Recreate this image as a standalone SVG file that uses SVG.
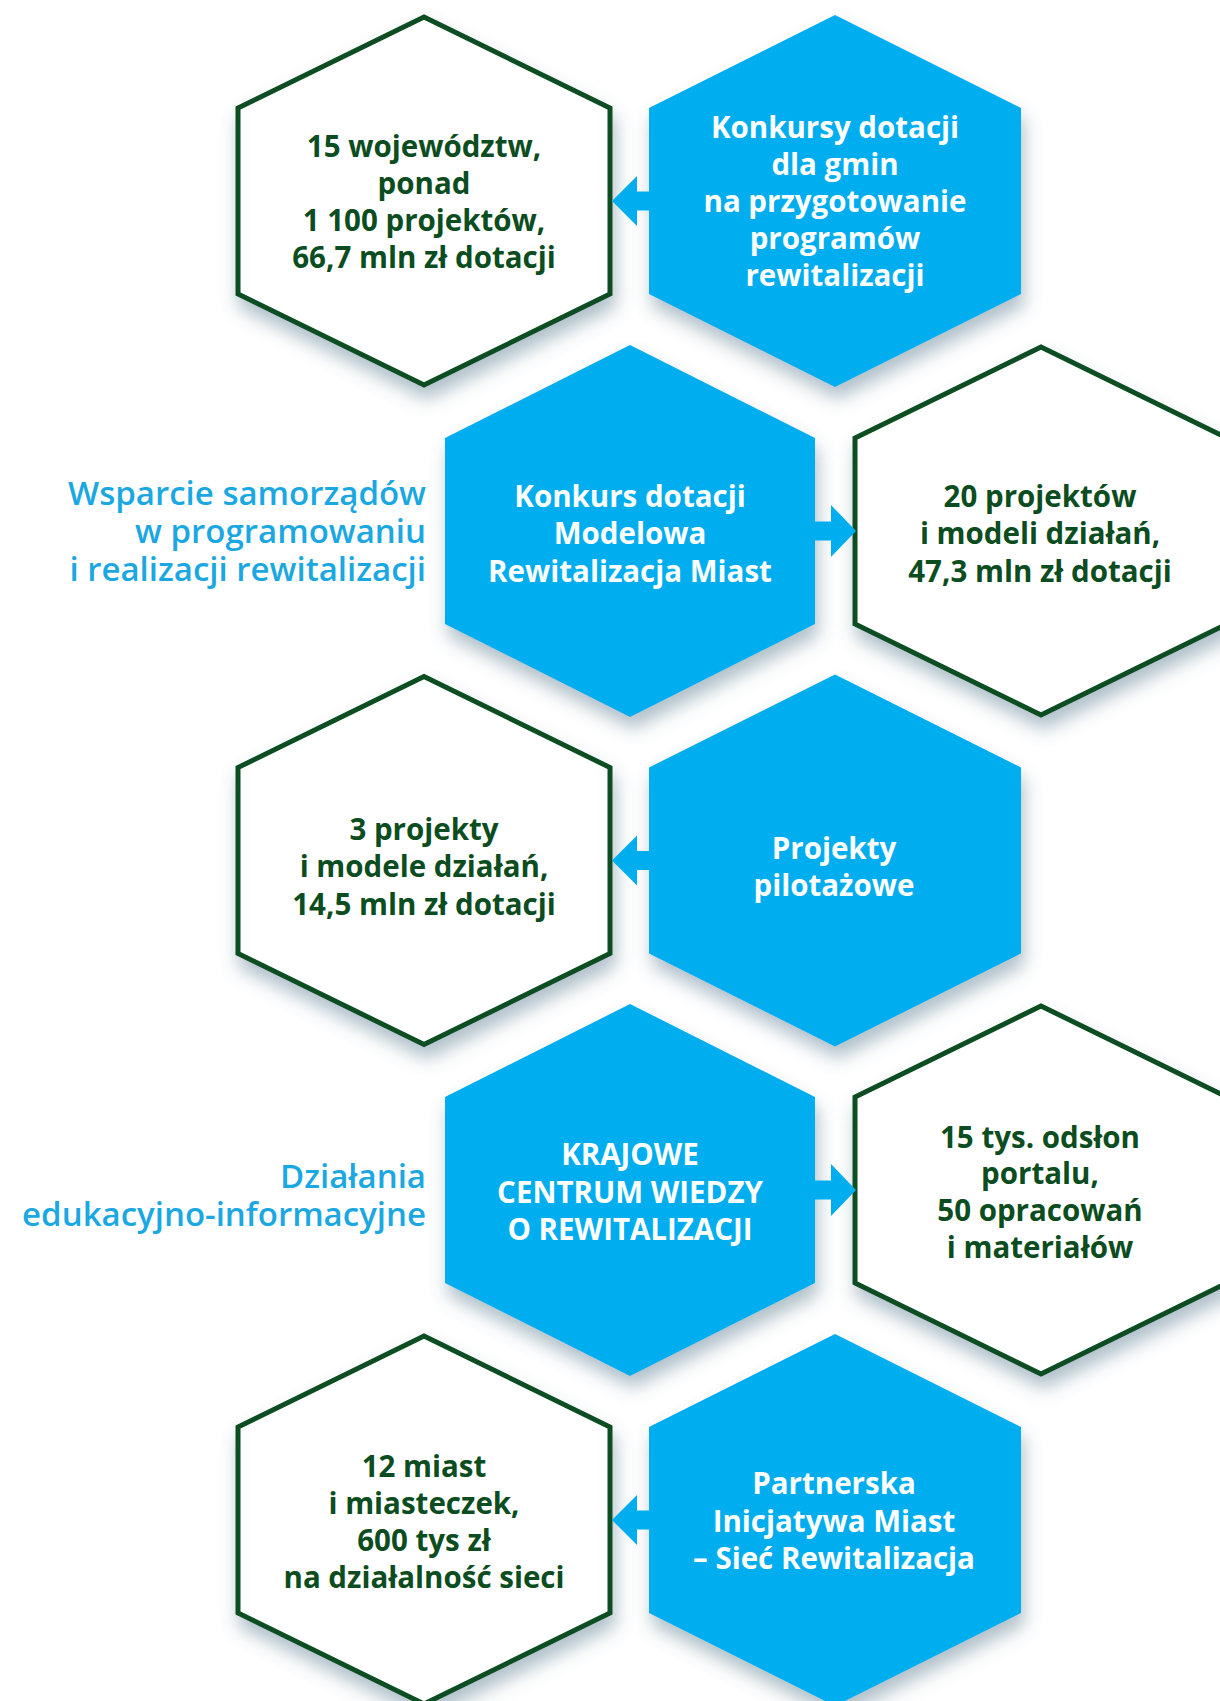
<svg xmlns="http://www.w3.org/2000/svg" width="1220" height="1701" viewBox="0 0 1220 1701">
  <defs>
    <filter id="shadow" x="-20%" y="-20%" width="140%" height="150%">
      <feDropShadow dx="3" dy="12" stdDeviation="9" flood-color="#4f7388" flood-opacity="0.45"/>
    </filter>
    <style>
      .hex-white { fill: #ffffff; stroke: #0b4d20; stroke-width: 5; stroke-linejoin: miter; filter: url(#shadow); }
      .hex-blue { fill: #00aeef; filter: url(#shadow); }
      .arrow { fill: #00aeef; }
      .t-green { font-family: "Open Sans", "Noto Sans", sans-serif; font-weight: 700; font-size: 29.5px; fill: #0b4d20; text-anchor: middle; }
      .t-white { font-family: "Open Sans", "Noto Sans", sans-serif; font-weight: 700; font-size: 29.5px; fill: #ffffff; text-anchor: middle; }
      .label { font-family: "Open Sans", "Noto Sans", sans-serif; font-weight: 600; font-size: 33px; fill: #1ba8e2; text-anchor: end; }
    </style>
  </defs>

  <rect width="1220" height="1701" fill="#ffffff"/>

  <!-- Row 1 -->
  <g id="node-wojewodztwa">
    <polygon class="hex-white" points="424,17 610,108 610,294 424,385 238,294 238,108"/>
    <text class="t-green" x="424" y="157">15 województw,</text>
    <text class="t-green" x="424" y="194">ponad</text>
    <text class="t-green" x="424" y="231">1 100 projektów,</text>
    <text class="t-green" x="424" y="268">66,7 mln zł dotacji</text>
  </g>
  <g id="node-konkursy-gmin">
    <polygon class="hex-blue" points="835,15 1021,108 1021,294 835,387 649,294 649,108"/>
    <text class="t-white" x="835" y="138">Konkursy dotacji</text>
    <text class="t-white" x="835" y="175">dla gmin</text>
    <text class="t-white" x="835" y="212">na przygotowanie</text>
    <text class="t-white" x="835" y="249">programów</text>
    <text class="t-white" x="835" y="286">rewitalizacji</text>
  </g>

  <!-- Row 2 -->
  <g id="label-wsparcie">
    <text class="label" x="426" y="505">Wsparcie samorządów</text>
    <text class="label" x="426" y="543">w programowaniu</text>
    <text class="label" x="426" y="581">i realizacji rewitalizacji</text>
  </g>
  <g id="node-modelowa">
    <polygon class="hex-blue" points="630,345 815,438 815,624 630,717 445,624 445,438"/>
    <text class="t-white" x="630" y="507">Konkurs dotacji</text>
    <text class="t-white" x="630" y="544">Modelowa</text>
    <text class="t-white" x="630" y="582">Rewitalizacja Miast</text>
  </g>
  <g id="node-20-projektow">
    <polygon class="hex-white" points="1041,347 1227,438 1227,624 1041,715 855,624 855,438"/>
    <text class="t-green" x="1040" y="507">20 projektów</text>
    <text class="t-green" x="1040" y="544">i modeli działań,</text>
    <text class="t-green" x="1040" y="582">47,3 mln zł dotacji</text>
  </g>

  <!-- Row 3 -->
  <g id="node-3-projekty">
    <polygon class="hex-white" points="424,676.5 610,767.5 610,953.5 424,1044.5 238,953.5 238,767.5"/>
    <text class="t-green" x="424" y="840">3 projekty</text>
    <text class="t-green" x="424" y="877">i modele działań,</text>
    <text class="t-green" x="424" y="915">14,5 mln zł dotacji</text>
  </g>
  <g id="node-pilotazowe">
    <polygon class="hex-blue" points="835,674.5 1021,767.5 1021,953.5 835,1046.5 649,953.5 649,767.5"/>
    <text class="t-white" x="834" y="859">Projekty</text>
    <text class="t-white" x="834" y="896">pilotażowe</text>
  </g>

  <!-- Row 4 -->
  <g id="label-dzialania">
    <text class="label" x="426" y="1188">Działania</text>
    <text class="label" x="426" y="1226">edukacyjno-informacyjne</text>
  </g>
  <g id="node-kcwr">
    <polygon class="hex-blue" points="630,1004 815,1097 815,1283 630,1376 445,1283 445,1097"/>
    <text class="t-white" x="630" y="1165">KRAJOWE</text>
    <text class="t-white" x="630" y="1203">CENTRUM WIEDZY</text>
    <text class="t-white" x="630" y="1240">O REWITALIZACJI</text>
  </g>
  <g id="node-portal">
    <polygon class="hex-white" points="1041,1006 1227,1097 1227,1283 1041,1374 855,1283 855,1097"/>
    <text class="t-green" x="1040" y="1148">15 tys. odsłon</text>
    <text class="t-green" x="1040" y="1184">portalu,</text>
    <text class="t-green" x="1040" y="1221">50 opracowań</text>
    <text class="t-green" x="1040" y="1258">i materiałów</text>
  </g>

  <!-- Row 5 -->
  <g id="node-12-miast">
    <polygon class="hex-white" points="424,1336 610,1427 610,1613 424,1704 238,1613 238,1427"/>
    <text class="t-green" x="424" y="1477">12 miast</text>
    <text class="t-green" x="424" y="1514">i miasteczek,</text>
    <text class="t-green" x="424" y="1551">600 tys zł</text>
    <text class="t-green" x="424" y="1588">na działalność sieci</text>
  </g>
  <g id="node-partnerska">
    <polygon class="hex-blue" points="835,1334 1021,1427 1021,1613 835,1706 649,1613 649,1427"/>
    <text class="t-white" x="834" y="1494">Partnerska</text>
    <text class="t-white" x="834" y="1532">Inicjatywa Miast</text>
    <text class="t-white" x="834" y="1569">– Sieć Rewitalizacja</text>
  </g>

  <!-- Connectors -->
  <g id="connectors">
    <polygon class="arrow" points="612,201 637,176 637,191.5 652,191.5 652,210.5 637,210.5 637,226"/>
    <polygon class="arrow" points="813,521.5 831,521.5 831,505 856,531 831,557 831,540.5 813,540.5"/>
    <polygon class="arrow" points="612,860.5 637,835.5 637,851 652,851 652,870 637,870 637,885.5"/>
    <polygon class="arrow" points="813,1180.5 831,1180.5 831,1164 856,1190 831,1216 831,1199.5 813,1199.5"/>
    <polygon class="arrow" points="612,1520 637,1495 637,1510.5 652,1510.5 652,1529.5 637,1529.5 637,1545"/>
  </g>
</svg>
